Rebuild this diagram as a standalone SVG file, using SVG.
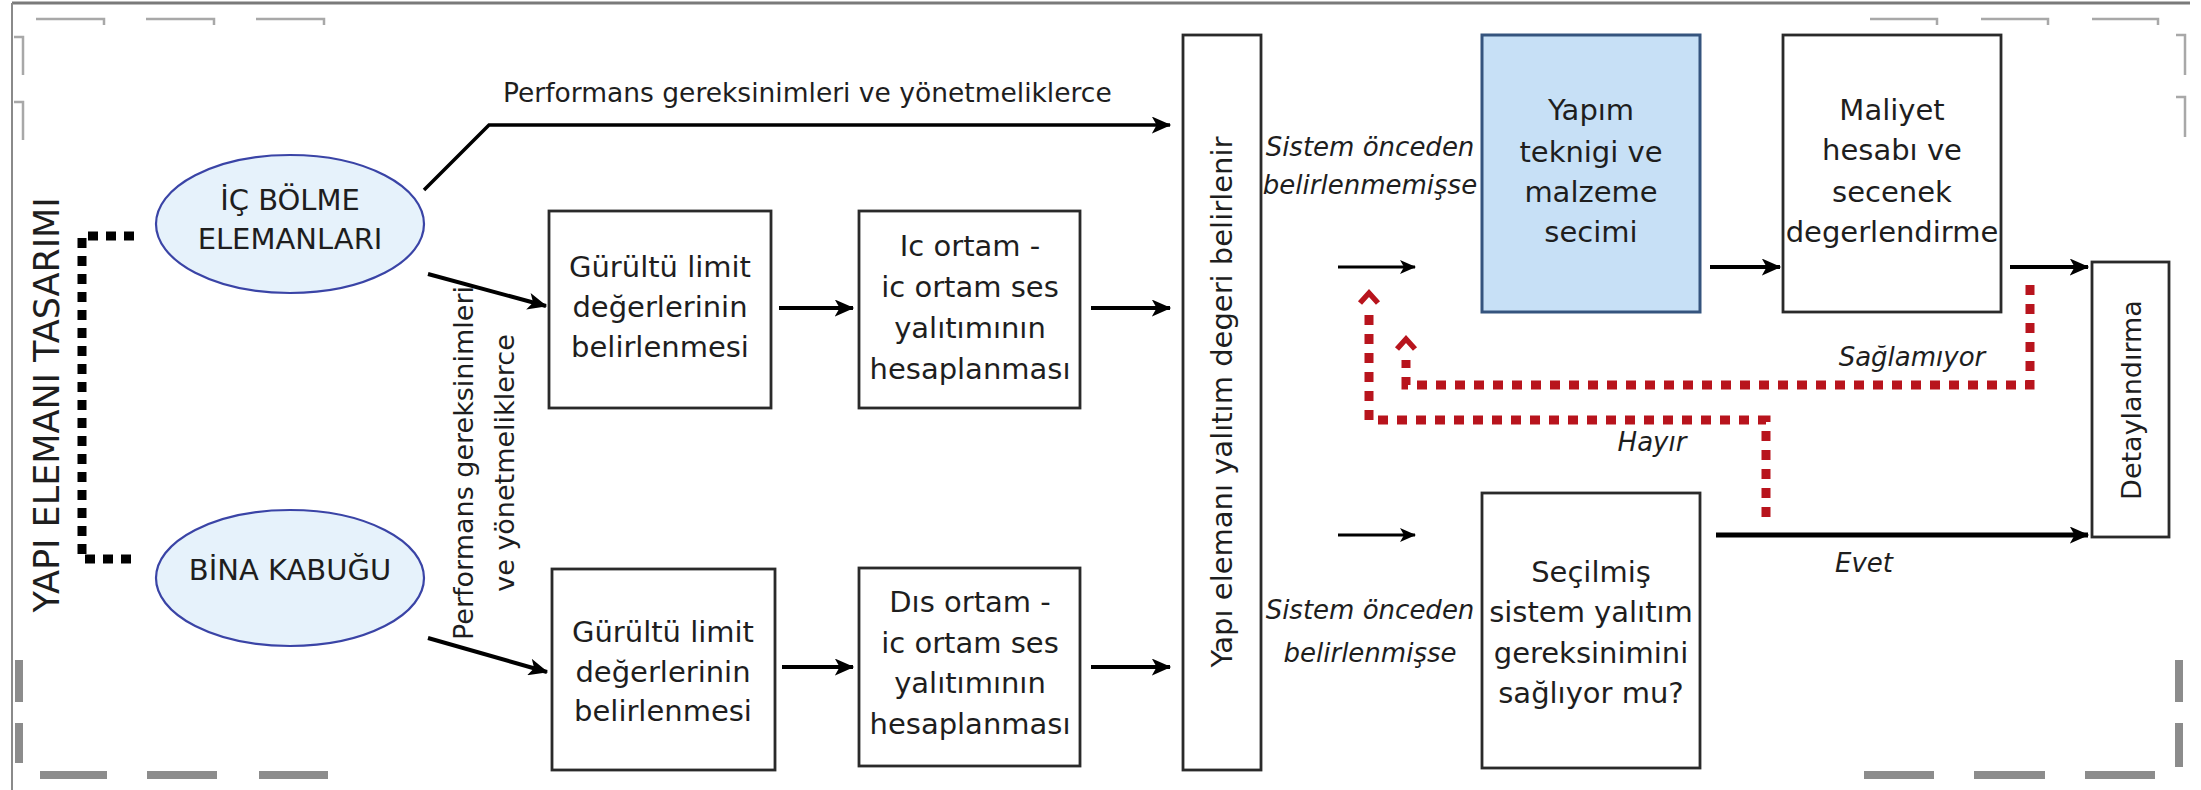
<svg xmlns="http://www.w3.org/2000/svg" width="2201" height="790" viewBox="0 0 2201 790">
<defs>
<style>
text{font-family:"DejaVu Sans","Liberation Sans",sans-serif;fill:#1e1e1e}
.bt{font-size:29px;text-anchor:middle}
.it{font-size:26px;font-style:italic;text-anchor:middle}
.box{fill:#fff;stroke:#2a2a2a;stroke-width:2.8}
.ell{fill:#e6f2fb;stroke:#3a44a6;stroke-width:2.2}
.arr{fill:none;stroke:#000;stroke-width:4;marker-end:url(#ah)}
.arr2{fill:none;stroke:#000;stroke-width:3;marker-end:url(#ah2)}
.red{fill:none;stroke:#b8141d;stroke-width:9;stroke-dasharray:10 9}
.chev{fill:none;stroke:#b8141d;stroke-width:5.5;stroke-linejoin:miter}
.blk{fill:none;stroke:#000;stroke-width:9;stroke-dasharray:10 8}
.thin{fill:none;stroke:#a8a8a8;stroke-width:2.5}
.thick{fill:none;stroke:#8c8c8c;stroke-width:8}
</style>
<marker id="ah" viewBox="0 0 16 14" refX="15" refY="7" markerWidth="20" markerHeight="17" markerUnits="userSpaceOnUse" orient="auto"><path d="M0,0 L16,7 L0,14 L4,7 Z" fill="#000"/></marker>
<marker id="ah2" viewBox="0 0 16 14" refX="15" refY="7" markerWidth="16" markerHeight="14" markerUnits="userSpaceOnUse" orient="auto"><path d="M0,0 L16,7 L0,14 L4,7 Z" fill="#000"/></marker>
</defs>
<rect x="0" y="0" width="2201" height="790" fill="#fff"/>
<g id="frame">
<line x1="12" y1="3" x2="2190" y2="3" stroke="#7a7a7a" stroke-width="3"/>
<line x1="12" y1="3" x2="12" y2="790" stroke="#8a8a8a" stroke-width="2"/>
<path class="thin" d="M36 19H104v6M146 19H214v6M256 19H324v6M14 37H23V75M14 102H23V140"/>
<path class="thin" d="M1870 19H1937v6M1981 19H2048v6M2092 19H2158v6M2176 35H2185V75M2176 97H2185V137"/>
<path class="thick" d="M19 660V702M19 723V763M40 775H107M147 775H217M259 775H328"/>
<path class="thick" d="M2179 660V702M2179 723V767M1864 775H1934M1974 775H2045M2085 775H2155"/>
</g>
<g id="title"><text transform="translate(46,405) rotate(-90)" text-anchor="middle" dy="0.36em" style="font-size:35px">YAPI ELEMANI TASARIMI</text></g>
<g id="connectors">
<path class="blk" d="M134 236H82V559H134"/>
<path class="arr" d="M424 190L489 125H1170" style="stroke-width:3.5"/>
<path class="arr" d="M428 274L546 306"/>
<path class="arr" d="M428 638L547 672"/>
<path class="arr" d="M779 308H853"/>
<path class="arr" d="M1091 308H1170"/>
<path class="arr" d="M782 667H853"/>
<path class="arr" d="M1091 667H1170"/>
<path class="arr2" d="M1338 267H1415"/>
<path class="arr2" d="M1338 535H1415"/>
<path class="arr" d="M1710 267H1780"/>
<path class="arr" d="M2010 267H2088"/>
<path class="arr" d="M1716 535H2088" style="stroke-width:5"/>
<path class="red" d="M2030 285V385H1406V360"/>
<path class="chev" d="M1397 349L1406 339L1415 349"/>
<path class="red" d="M1766 517V420H1369V314"/>
<path class="chev" d="M1360 303L1369 293L1378 303"/>
<text x="503" y="102" style="font-size:26.5px">Performans gereksinimleri ve yönetmeliklerce</text>
<text transform="translate(463,463) rotate(-90)" text-anchor="middle" dy="0.36em" style="font-size:27px">Performans gereksinimleri</text>
<text transform="translate(504,463) rotate(-90)" text-anchor="middle" dy="0.36em" style="font-size:27px">ve yönetmeliklerce</text>
<text class="it" x="1370" y="156">Sistem önceden</text>
<text class="it" x="1370" y="194">belirlenmemişse</text>
<text class="it" x="1370" y="619">Sistem önceden</text>
<text class="it" x="1370" y="662">belirlenmişse</text>
<text class="it" x="1912" y="366">Sağlamıyor</text>
<text class="it" x="1652" y="451">Hayır</text>
<text class="it" x="1864" y="572">Evet</text>
</g>
<g id="ic-bolme">
<ellipse class="ell" cx="290" cy="224" rx="134" ry="69"/>
<text class="bt" x="290" y="210">İÇ BÖLME</text>
<text class="bt" x="290" y="249">ELEMANLARI</text>
</g>
<g id="bina-kabugu">
<ellipse class="ell" cx="290" cy="578" rx="134" ry="68"/>
<text class="bt" x="290" y="580">BİNA KABUĞU</text>
</g>
<g id="gurultu-1">
<rect class="box" x="549" y="211" width="222" height="197"/>
<text class="bt" x="660" y="277">Gürültü limit</text>
<text class="bt" x="660" y="317">değerlerinin</text>
<text class="bt" x="660" y="357">belirlenmesi</text>
</g>
<g id="ic-ortam">
<rect class="box" x="859" y="211" width="221" height="197"/>
<text class="bt" x="970" y="256">Ic ortam -</text>
<text class="bt" x="970" y="297">ic ortam ses</text>
<text class="bt" x="970" y="338">yalıtımının</text>
<text class="bt" x="970" y="379">hesaplanması</text>
</g>
<g id="gurultu-2">
<rect class="box" x="552" y="569" width="223" height="201"/>
<text class="bt" x="663" y="642">Gürültü limit</text>
<text class="bt" x="663" y="682">değerlerinin</text>
<text class="bt" x="663" y="721">belirlenmesi</text>
</g>
<g id="dis-ortam">
<rect class="box" x="859" y="568" width="221" height="198"/>
<text class="bt" x="970" y="612">Dıs ortam -</text>
<text class="bt" x="970" y="653">ic ortam ses</text>
<text class="bt" x="970" y="693">yalıtımının</text>
<text class="bt" x="970" y="734">hesaplanması</text>
</g>
<g id="yalitim-degeri">
<rect class="box" x="1183" y="35" width="78" height="735"/>
<text transform="translate(1222,402) rotate(-90)" text-anchor="middle" dy="0.36em" style="font-size:29px">Yapı elemanı yalıtım degeri belirlenir</text>
</g>
<g id="yapim-teknigi">
<rect x="1482" y="35" width="218" height="277" fill="#c7e0f6" stroke="#35547e" stroke-width="3"/>
<text class="bt" x="1591" y="120">Yapım</text>
<text class="bt" x="1591" y="162">teknigi ve</text>
<text class="bt" x="1591" y="202">malzeme</text>
<text class="bt" x="1591" y="242">secimi</text>
</g>
<g id="maliyet">
<rect class="box" x="1783" y="35" width="218" height="277"/>
<text class="bt" x="1892" y="120">Maliyet</text>
<text class="bt" x="1892" y="160">hesabı ve</text>
<text class="bt" x="1892" y="202">secenek</text>
<text class="bt" x="1892" y="242">degerlendirme</text>
</g>
<g id="secilmis">
<rect class="box" x="1482" y="493" width="218" height="275"/>
<text class="bt" x="1591" y="582">Seçilmiş</text>
<text class="bt" x="1591" y="622">sistem yalıtım</text>
<text class="bt" x="1591" y="663">gereksinimini</text>
<text class="bt" x="1591" y="703">sağlıyor mu?</text>
</g>
<g id="detaylandirma">
<rect class="box" x="2092" y="262" width="77" height="275"/>
<text transform="translate(2131,400) rotate(-90)" text-anchor="middle" dy="0.36em" style="font-size:27px">Detaylandırma</text>
</g>
</svg>
